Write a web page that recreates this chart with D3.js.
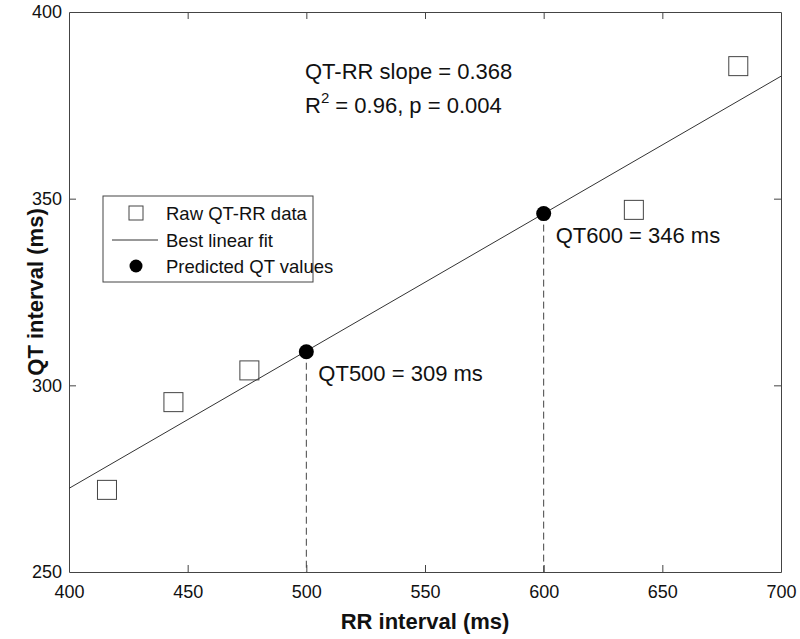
<!DOCTYPE html>
<html>
<head>
<meta charset="utf-8">
<script src="https://cdn.jsdelivr.net/npm/d3@7"></script>
<style>
  html, body { margin: 0; padding: 0; background: #fff; }
  svg { display: block; font-family: "Liberation Sans", Arial, Helvetica, sans-serif; }
</style>
</head>
<body>
<svg id="chart" width="800" height="639"></svg>
<script>
// ---- data ----
const rawRR = [416, 444, 476, 638, 682];
const rawQT = [272, 295.5, 304, 347, 385.5];
const predRR = [500, 600];
const predQT = [309, 346];
const predLabels = ["QT500 = 309 ms", "QT600 = 346 ms"];
const fitSlope = 0.368;
const fitIntercept = 125.2;
const xTicks = [400, 450, 500, 550, 600, 650, 700];
const yTicks = [250, 300, 350, 400];
const legendLabels = ["Raw QT-RR data", "Best linear fit", "Predicted QT values"];

// ---- layout ----
const svg = d3.select("#chart");
const L = 69, R = 781, T = 12, B = 572;
const x = d3.scaleLinear().domain([400, 700]).range([L, R]);
const y = d3.scaleLinear().domain([250, 400]).range([B, T]);
const axisColor = "#444";

// axes (ticks inward, mirrored)
const gx = svg.append("g").attr("transform", `translate(0,${B})`)
  .call(d3.axisBottom(x).tickValues(xTicks).tickSizeInner(-7).tickSizeOuter(0).tickPadding(13));
const gxt = svg.append("g").attr("transform", `translate(0,${T})`)
  .call(d3.axisTop(x).tickValues(xTicks).tickSizeInner(-7).tickSizeOuter(0).tickFormat(""));
const gy = svg.append("g").attr("transform", `translate(${L},0)`)
  .call(d3.axisLeft(y).tickValues(yTicks).tickSizeInner(-7).tickSizeOuter(0).tickPadding(7));
const gyr = svg.append("g").attr("transform", `translate(${R},0)`)
  .call(d3.axisRight(y).tickValues(yTicks).tickSizeInner(-7).tickSizeOuter(0).tickFormat(""));
[gx, gxt, gy, gyr].forEach(g => {
  g.select(".domain").attr("stroke", axisColor);
  g.selectAll(".tick line").attr("stroke", axisColor);
  g.selectAll(".tick text").attr("fill", "#111").attr("font-size", 18)
    .attr("font-family", "'Liberation Sans', Arial, sans-serif");
});
gxt.selectAll(".tick").filter(d => d === 400 || d === 700).remove();
gyr.selectAll(".tick").filter(d => d === 250 || d === 400).remove();
gx.selectAll(".tick line").filter(d => d === 400 || d === 700).remove();
gy.selectAll(".tick line").filter(d => d === 250 || d === 400).remove();

// axis titles
svg.append("text").attr("x", (L + R) / 2).attr("y", 629).attr("text-anchor", "middle")
  .attr("font-size", 22).attr("font-weight", "bold").attr("fill", "#111").text("RR interval (ms)");
svg.append("text").attr("transform", `translate(43,${(T + B) / 2}) rotate(-90)`)
  .attr("text-anchor", "middle").attr("font-size", 22).attr("font-weight", "bold")
  .attr("fill", "#111").text("QT interval (ms)");

// fit line
const fitX = x.domain();
svg.append("line")
  .attr("x1", x(fitX[0])).attr("y1", y(fitSlope * fitX[0] + fitIntercept))
  .attr("x2", x(fitX[1])).attr("y2", y(fitSlope * fitX[1] + fitIntercept))
  .attr("stroke", "#333").attr("stroke-width", 1);

// dashed drops
svg.selectAll("line.drop").data(predRR).enter().append("line").attr("class", "drop")
  .attr("x1", d => x(d)).attr("x2", d => x(d))
  .attr("y1", (d, i) => y(predQT[i])).attr("y2", B)
  .attr("stroke", "#444").attr("stroke-width", 1).attr("stroke-dasharray", "7,4");

// raw squares
const sq = 19;
svg.selectAll("rect.raw").data(rawRR).enter().append("rect").attr("class", "raw")
  .attr("x", d => x(d) - sq / 2).attr("y", (d, i) => y(rawQT[i]) - sq / 2)
  .attr("width", sq).attr("height", sq)
  .attr("fill", "none").attr("stroke", "#444").attr("stroke-width", 1);

// predicted dots
svg.selectAll("circle.pred").data(predRR).enter().append("circle").attr("class", "pred")
  .attr("cx", d => x(d)).attr("cy", (d, i) => y(predQT[i])).attr("r", 7.5).attr("fill", "#000");

// predicted labels
svg.selectAll("text.plab").data(predRR).enter().append("text").attr("class", "plab")
  .attr("x", d => x(d) + 12).attr("y", (d, i) => y(predQT[i]) + 29)
  .attr("font-size", 22).attr("fill", "#111").text((d, i) => predLabels[i]);

// annotation
const ann = svg.append("g").attr("font-size", 22).attr("fill", "#111");
ann.append("text").attr("x", 305).attr("y", 79).text("QT-RR slope = 0.368");
const t2 = ann.append("text").attr("x", 305).attr("y", 113);
t2.append("tspan").text("R");
t2.append("tspan").attr("dy", -10).attr("font-size", 15).text("2");
t2.append("tspan").attr("dy", 10).text(" = 0.96, p = 0.004");

// legend
const lg = svg.append("g");
lg.append("rect").attr("x", 103).attr("y", 196).attr("width", 210).attr("height", 86)
  .attr("fill", "#fff").attr("stroke", "#444").attr("stroke-width", 1);
lg.append("rect").attr("x", 129).attr("y", 206).attr("width", 14).attr("height", 14)
  .attr("fill", "none").attr("stroke", "#444");
lg.append("line").attr("x1", 112).attr("x2", 158).attr("y1", 240).attr("y2", 240)
  .attr("stroke", "#333");
lg.append("circle").attr("cx", 136).attr("cy", 266).attr("r", 6.5).attr("fill", "#000");
lg.selectAll("text").data(legendLabels).enter().append("text")
  .attr("x", 166).attr("y", (d, i) => 220 + i * 26.5)
  .attr("font-size", 18.5).attr("fill", "#111").text(d => d);
</script>
</body>
</html>
